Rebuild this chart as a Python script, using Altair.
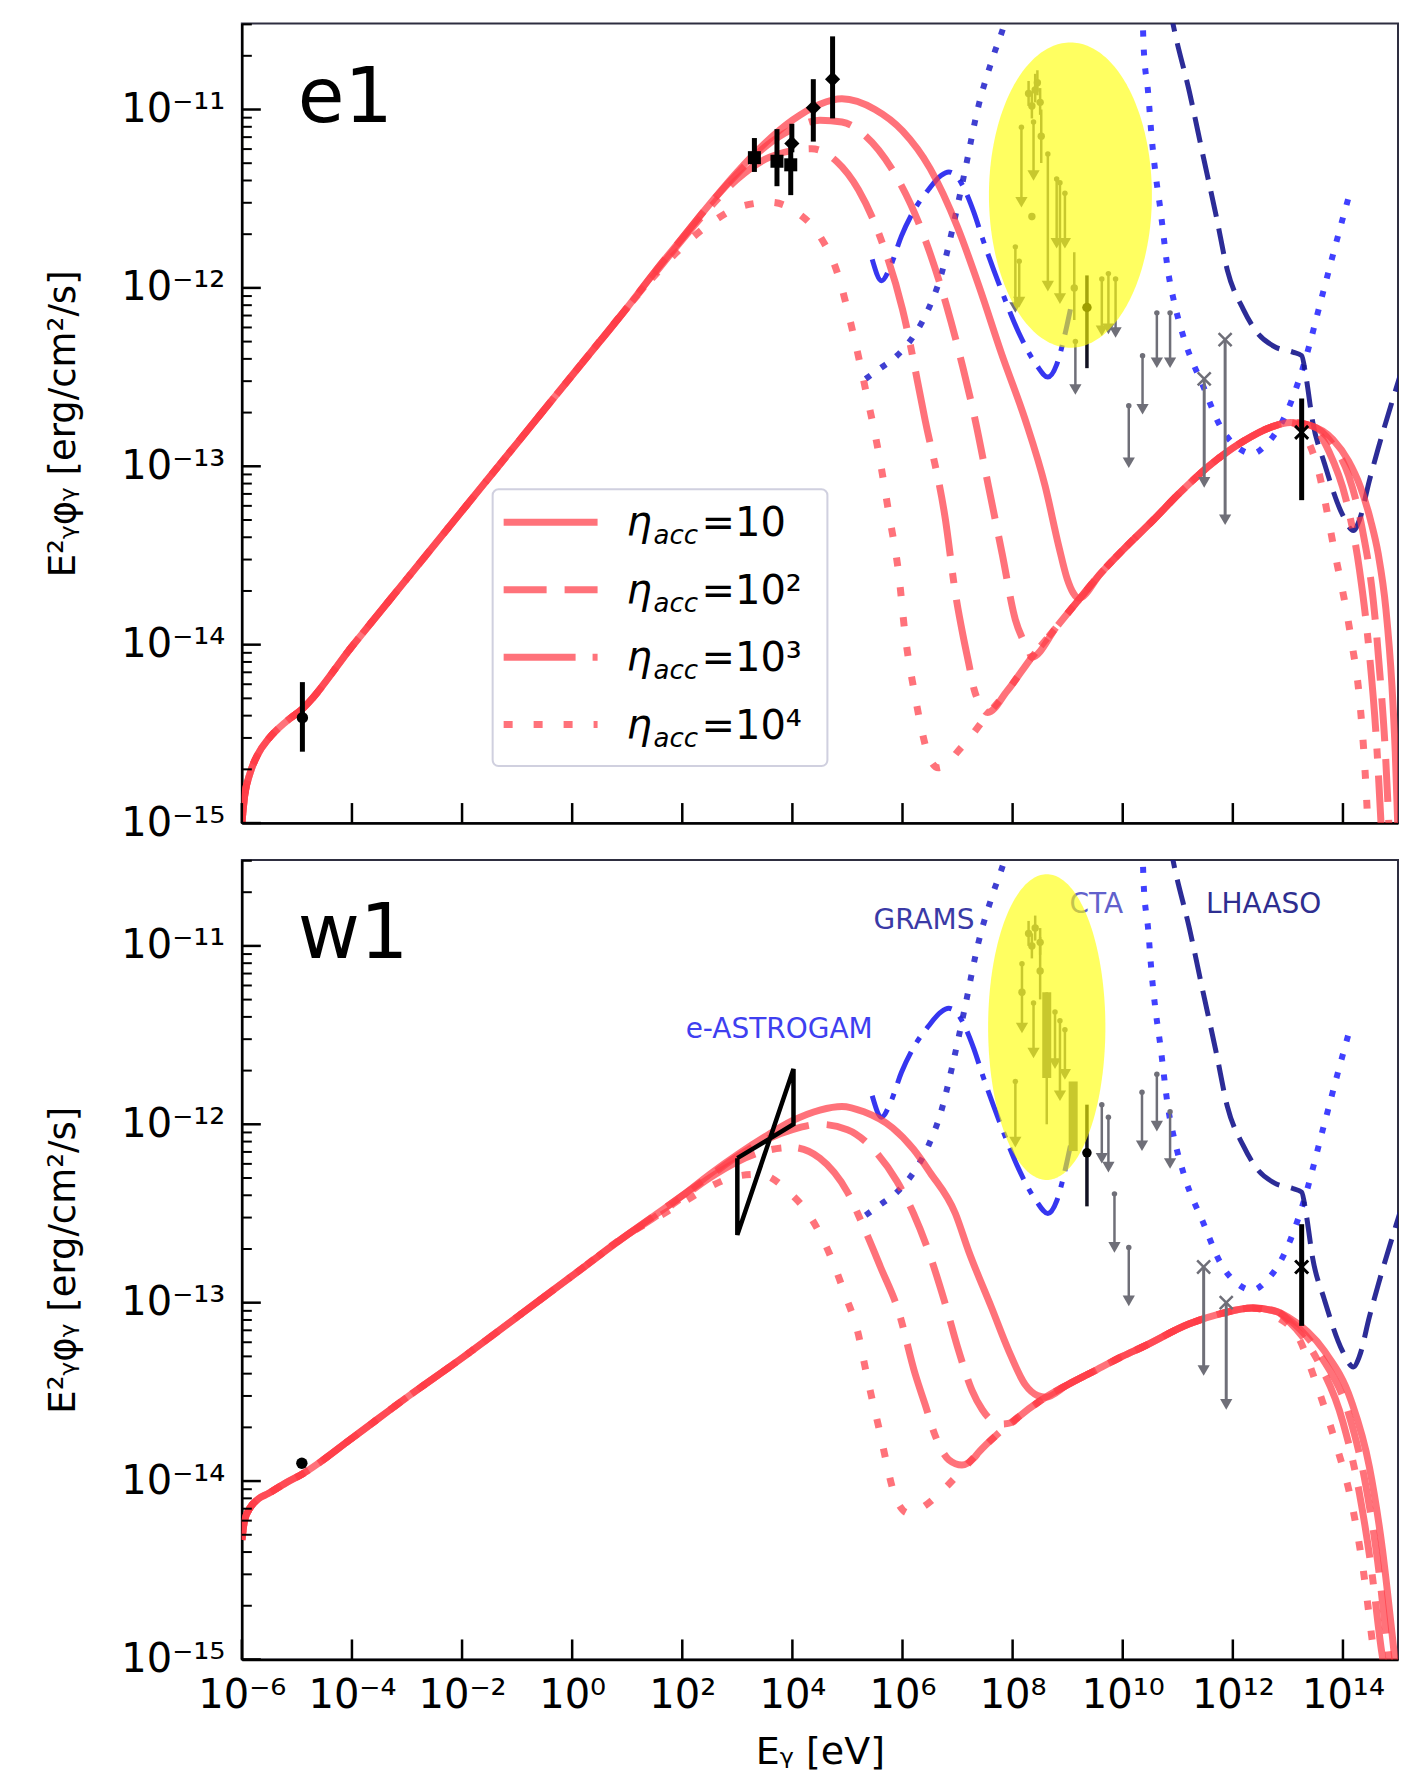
import math
import altair as alt
import pandas as pd

# ---------------- axis ranges / ticks ----------------
X_DOMAIN = [1e-6, 1e15]
Y_DOMAIN = [1e-15, 3.03e-11]
PANEL_W, PANEL_H = 1157, 800
X_TICK_EXP = list(range(-6, 15, 2))
Y_TICK_EXP = [-15, -14, -13, -12, -11]

# ---------------- values (log10 units) ----------------
# x = log10(E / eV), y = log10(E^2 phi / (erg cm^-2 s^-1))

# ---- e1 (top) model curves ----
e1_common = [(-6.0, -15.0), (-5.95, -14.85), (-5.85, -14.72), (-5.7, -14.61), (-5.52, -14.53),
             (-5.19, -14.43), (-4.9, -14.36), (-4.0, -14.01), (-3.0, -13.63), (-2.0, -13.25),
             (-1.0, -12.87), (0.0, -12.49), (1.0, -12.11)]
e1_solid_mid = [(1.5, -11.91), (2.0, -11.72), (2.5, -11.53), (3.0, -11.35), (3.5, -11.19), (4.0, -11.06),
                (4.5, -10.97), (4.9, -10.94), (5.5, -11.0), (6.0, -11.12), (6.5, -11.33), (7.0, -11.66),
                (7.4, -12.0), (7.8, -12.37), (8.23, -12.74), (8.59, -13.11), (8.84, -13.45), (8.99, -13.63),
                (9.1, -13.71), (9.2, -13.74)]
e1_dashed_mid = [(1.5, -11.91), (2.0, -11.72), (2.5, -11.53), (3.0, -11.36), (3.5, -11.21), (4.0, -11.11),
                 (4.5, -11.06), (4.9, -11.07), (5.3, -11.14), (5.8, -11.33), (6.3, -11.64), (6.8, -12.1),
                 (7.1, -12.45), (7.32, -12.74), (7.56, -13.11), (7.81, -13.49), (8.05, -13.86), (8.2, -13.98),
                 (8.3, -14.04)]
e1_dashdot_mid = [(1.5, -11.92), (2.0, -11.73), (2.5, -11.55), (3.0, -11.39), (3.5, -11.28), (4.0, -11.23),
                  (4.35, -11.22), (4.8, -11.29), (5.2, -11.45), (5.6, -11.72), (6.0, -12.12), (6.41, -12.74),
                  (6.78, -13.30), (6.96, -13.71), (7.1, -13.95), (7.2, -14.1), (7.3, -14.25), (7.42, -14.34),
                  (7.55, -14.38)]
e1_dotted_mid = [(1.5, -11.93), (2.0, -11.77), (2.55, -11.63), (3.1, -11.54), (3.6, -11.52), (4.1, -11.58),
                 (4.5, -11.71), (4.8, -11.9), (5.1, -12.25), (5.35, -12.6), (5.57, -12.93), (5.75, -13.26),
                 (5.93, -13.6), (6.05, -13.95), (6.23, -14.29), (6.35, -14.48), (6.47, -14.62), (6.65, -14.69),
                 (6.84, -14.66), (7.0, -14.6)]
e1_ic = [(7.2, -14.53), (7.5, -14.41), (7.9, -14.26), (8.35, -14.07), (8.8, -13.9), (9.17, -13.76),
         (9.6, -13.6), (10.0, -13.47), (10.56, -13.3), (11.0, -13.16), (11.56, -13.0), (12.19, -12.86),
         (12.7, -12.78), (13.05, -12.755), (13.4, -12.77)]
e1_solid_tail = [(13.82, -12.85), (14.1, -12.97), (14.31, -13.11), (14.5, -13.3), (14.64, -13.49),
                 (14.78, -13.8), (14.89, -14.23), (14.95, -14.6), (15.0, -15.05)]
e1_dashed_tail = [(13.82, -12.88), (14.1, -13.05), (14.35, -13.35), (14.55, -13.75), (14.68, -14.2),
                  (14.77, -14.6), (14.84, -15.05)]
e1_dashdot_tail = [(13.75, -12.92), (14.05, -13.18), (14.3, -13.58), (14.48, -14.05), (14.6, -14.5),
                   (14.7, -15.05)]
e1_dotted_tail = [(13.3, -12.82), (13.55, -13.02), (13.83, -13.45), (14.15, -13.97), (14.3, -14.3),
                  (14.4, -14.7), (14.46, -15.05)]

# ---- w1 (bottom) model curves ----
w1_common = [(-6.0, -14.33), (-5.95, -14.22), (-5.85, -14.15), (-5.7, -14.1), (-5.52, -14.07),
             (-5.2, -14.01), (-4.9, -13.96), (-4.0, -13.76), (-3.0, -13.53), (-2.0, -13.31),
             (-1.0, -13.08), (0.0, -12.85), (1.0, -12.62)]
w1_solid_mid = [(1.5, -12.51), (2.0, -12.40), (2.5, -12.28), (3.0, -12.17), (3.5, -12.07), (4.0, -11.98),
                (4.5, -11.92), (4.9, -11.90), (5.3, -11.93), (5.82, -12.02), (6.2, -12.14), (6.5, -12.27),
                (6.96, -12.5), (7.2, -12.71), (7.62, -13.03), (7.93, -13.27), (8.23, -13.46), (8.45, -13.52),
                (8.6, -13.53)]
w1_dashed_mid = [(1.5, -12.51), (2.0, -12.40), (2.5, -12.29), (3.0, -12.18), (3.5, -12.09), (4.0, -12.03),
                 (4.5, -12.0), (5.0, -12.03), (5.5, -12.15), (5.9, -12.32), (6.2, -12.5), (6.47, -12.71),
                 (6.78, -13.01), (7.02, -13.27), (7.26, -13.49), (7.45, -13.6), (7.62, -13.66), (7.81, -13.68),
                 (8.0, -13.67)]
w1_dashdot_mid = [(1.5, -12.52), (2.0, -12.41), (2.5, -12.3), (3.0, -12.21), (3.5, -12.15), (4.0, -12.13),
                  (4.5, -12.19), (5.0, -12.38), (5.3, -12.58), (5.6, -12.8), (5.93, -13.05), (6.23, -13.40),
                  (6.41, -13.57), (6.6, -13.75), (6.84, -13.88), (7.08, -13.91), (7.3, -13.87)]
w1_dotted_mid = [(1.5, -12.53), (2.0, -12.44), (2.5, -12.35), (3.0, -12.29), (3.4, -12.28), (3.94, -12.38),
                 (4.35, -12.53), (4.68, -12.73), (4.95, -12.95), (5.2, -13.18), (5.32, -13.36), (5.44, -13.53),
                 (5.57, -13.7), (5.69, -13.87), (5.81, -14.03), (5.95, -14.14), (6.11, -14.18), (6.35, -14.15)]
w1_ic = [(6.6, -14.09), (7.02, -13.96), (7.38, -13.84), (7.75, -13.73), (8.11, -13.64), (8.6, -13.53),
         (9.0, -13.46), (9.44, -13.39), (10.0, -13.3), (10.35, -13.25), (11.2, -13.12), (11.8, -13.06),
         (12.35, -13.03), (12.8, -13.05)]
w1_solid_tail = [(13.0, -13.08), (13.66, -13.27), (14.15, -13.55), (14.48, -13.92), (14.72, -14.39),
                 (14.89, -14.85), (14.96, -15.05)]
w1_dashed_tail = [(13.0, -13.09), (13.6, -13.3), (14.1, -13.62), (14.4, -14.0), (14.63, -14.45),
                  (14.8, -14.9), (14.86, -15.05)]
w1_dashdot_tail = [(13.0, -13.1), (13.55, -13.33), (14.0, -13.67), (14.3, -14.07), (14.52, -14.5),
                   (14.7, -14.95), (14.75, -15.05)]
w1_dotted_tail = [(12.8, -13.08), (13.2, -13.2), (13.5, -13.44), (13.87, -13.79), (14.15, -14.11),
                  (14.36, -14.48), (14.56, -14.96), (14.6, -15.05)]

# ---- instrument sensitivities (same in both panels) ----
eastrogam = [(5.45, -11.84), (5.62, -11.96), (5.78, -11.88), (5.98, -11.71), (6.2, -11.57), (6.47, -11.45),
             (6.7, -11.37), (6.84, -11.35), (7.0, -11.38), (7.13, -11.45), (7.3, -11.58), (7.45, -11.72),
             (7.78, -12.0), (8.11, -12.25), (8.43, -12.43), (8.64, -12.5), (8.8, -12.43), (8.92, -12.3),
             (9.05, -12.12)]
grams = [(5.33, -12.51), (5.6, -12.45), (5.9, -12.38), (6.2, -12.27), (6.47, -12.12), (6.7, -11.93),
         (6.9, -11.68), (7.13, -11.35), (7.38, -10.98), (7.65, -10.7), (7.85, -10.52), (7.95, -10.4)]
cta = [(10.36, -10.45), (10.38, -10.65), (10.46, -10.9), (10.53, -11.17), (10.6, -11.37), (10.68, -11.55),
       (10.83, -11.92), (10.95, -12.1), (11.13, -12.3), (11.46, -12.55), (11.78, -12.78), (12.11, -12.9),
       (12.35, -12.93), (12.6, -12.88), (12.93, -12.73), (13.25, -12.47), (13.66, -12.0), (13.9, -11.72),
       (14.15, -11.44)]
lhaaso = [(10.85, -10.42), (10.92, -10.53), (11.21, -10.9), (11.46, -11.26), (11.7, -11.6), (11.9, -11.9),
          (12.19, -12.12), (12.44, -12.25), (12.76, -12.33), (13.09, -12.36), (13.25, -12.38), (13.33, -12.5),
          (13.45, -12.75), (13.66, -12.98), (13.99, -13.27), (14.19, -13.36), (14.3, -13.3), (14.48, -13.08),
          (14.64, -12.9), (14.97, -12.56), (15.05, -12.48)]
instrument_names = ["e-ASTROGAM", "GRAMS", "CTA", "LHAASO"]
instrument_label_pos = [(3.76, -11.47), (6.39, -10.86), (9.52, -10.77), (12.56, -10.77)]

# ---- measured data ----
# upper limits: (logE, top, arrow head)
e1_ul = [(8.16, -11.10, -11.52), (8.38, -11.07, -11.37), (8.64, -11.25, -11.99), (8.80, -11.39, -11.75),
         (8.86, -11.41, -12.06), (8.95, -11.47, -11.75), (8.05, -11.77, -12.11), (8.12, -11.85, -12.08),
         (9.62, -11.95, -12.24), (9.74, -11.92, -12.23), (9.87, -11.95, -12.25), (9.14, -12.30, -12.57),
         (10.62, -12.14, -12.42), (10.86, -12.14, -12.42), (10.36, -12.38, -12.68), (10.11, -12.66, -12.98)]
w1_ul = [(8.17, -11.10, -11.46), (8.38, -11.32, -11.60), (8.77, -11.37, -11.66), (8.86, -11.42, -11.84),
         (8.95, -11.47, -11.72), (8.05, -11.76, -12.10), (9.62, -11.89, -12.19), (9.74, -11.96, -12.24),
         (10.35, -11.82, -12.12), (10.62, -11.72, -12.01), (10.86, -11.93, -12.22), (9.85, -12.39, -12.69),
         (10.11, -12.69, -12.99)]
# gray points: (logE, value, low, high)
e1_gray_pts = [(8.29, -10.91, -10.98, -10.84), (8.41, -10.89, -10.96, -10.80), (8.50, -10.96, -11.03, -10.88),
               (8.35, -10.98, -11.05, -10.90), (8.45, -10.85, -10.92, -10.78), (8.52, -11.15, -11.30, -11.00),
               (8.35, -11.60, -11.62, -11.58), (9.12, -12.00, -12.18, -11.80)]
w1_gray_pts = [(8.29, -10.93, -11.0, -10.86), (8.41, -10.90, -10.97, -10.83), (8.50, -10.98, -11.05, -10.90),
               (8.35, -11.00, -11.07, -10.93), (8.50, -11.14, -11.30, -10.95), (8.17, -11.26, -11.28, -11.24),
               (8.62, -11.5, -12.0, -11.26)]
w1_gray_thick = [(8.62, -11.26, -11.74), (9.1, -11.76, -12.15)]
# gray crosses with arrows: (logE, value, arrow head)
e1_gray_x = [(11.48, -12.51, -13.09), (11.86, -12.29, -13.30)]
w1_gray_x = [(11.47, -12.80, -13.38), (11.88, -13.00, -13.57)]
# black points
e1_radio = [(-4.9, -14.41, -14.60, -14.21)]
w1_radio = [(-4.91, -13.90, -13.90, -13.90)]
e1_xray_sq = [(3.31, -11.27, -11.35, -11.16), (3.72, -11.29, -11.43, -11.11), (3.97, -11.31, -11.48, -11.21)]
e1_xray_dm = [(3.99, -11.19, -11.24, -11.08), (4.38, -10.99, -11.18, -10.83), (4.73, -10.83, -11.05, -10.59)]
e1_black_dot = [(9.35, -12.11, -12.45, -11.93)]
w1_black_dot = [(9.35, -12.16, -12.46, -11.89)]
e1_black_x = [(13.25, -12.81, -13.19, -12.62)]
w1_black_x = [(13.25, -12.80, -13.13, -12.56)]
w1_bowtie = [(3.0, -12.19), (4.02, -12.0), (4.02, -11.69), (3.0, -12.62), (3.0, -12.19)]
# highlight ellipses: (centre logE, centre logF, half width [dex], half height [dex])
e1_ellipse = (9.05, -11.48, 1.48, 0.856)
w1_ellipse = (8.62, -11.455, 1.065, 0.857)

legend_labels = ["10", "10²", "10³", "10⁴"]

# ---------------- styling ----------------
FONT = "DejaVu Sans"
RED = "#ff3c46"
GRAY = "#6f6f78"
DASHES = [None, [43, 18], [72, 17, 10, 17], [9, 21]]
SUP = str.maketrans("-0123456789", "⁻⁰¹²³⁴⁵⁶⁷⁸⁹")


def label_expr(exps):
    k = "round(log(datum.value) / LN10)"
    return " : ".join(f"{k} == {e} ? '10{str(e).translate(SUP)}'" for e in exps) + " : ''"


def pts(pairs):
    return pd.DataFrame({"E": [10.0 ** a for a, _ in pairs], "F": [10.0 ** b for _, b in pairs]})


def seg(pairs, lo, hi=99):
    return [p for p in pairs if lo < p[0] <= hi]


def vals(rows):
    return pd.DataFrame({"E": [10.0 ** r[0] for r in rows], "F": [10.0 ** r[1] for r in rows],
                         "F2": [10.0 ** r[2] for r in rows]})


def pt4(rows):
    return pd.DataFrame({"E": [10.0 ** r[0] for r in rows], "F": [10.0 ** r[1] for r in rows],
                         "Flo": [10.0 ** r[2] for r in rows], "Fhi": [10.0 ** r[3] for r in rows]})


yaxis = alt.Axis(values=[10.0 ** e for e in Y_TICK_EXP], labelExpr=label_expr(Y_TICK_EXP), labelFont=FONT,
                 labelFontSize=40, labelColor="black", labelPadding=17, labelOverlap=False, ticks=False,
                 grid=False, domainColor="black", domainWidth=2.5, title="E²ᵧφᵧ [erg/cm²/s]", titleFont=FONT,
                 titleFontSize=37, titleFontWeight="normal", titleColor="black", titlePadding=38)
xaxis_top = alt.Axis(values=[10.0 ** e for e in X_TICK_EXP], labels=False, ticks=False, grid=False,
                     domainColor="black", domainWidth=2.5, title=None)
xaxis_bot = alt.Axis(values=[10.0 ** e for e in X_TICK_EXP], labelExpr=label_expr(X_TICK_EXP), labelFont=FONT,
                     labelFontSize=40, labelColor="black", labelPadding=16, labelFlush=False, labelOverlap=False,
                     ticks=False, grid=False, domainColor="black", domainWidth=2.5, title="Eᵧ [eV]",
                     titleFont=FONT, titleFontSize=38, titleFontWeight="normal", titleColor="black",
                     titlePadding=18)


def build_panel(name, curves, ul, gray_pts, gray_x, radio, black_dot, black_x, ell, bottom,
                extra=None):
    xe = alt.X("E:Q", scale=alt.Scale(type="log", domain=X_DOMAIN), axis=xaxis_bot if bottom else xaxis_top)
    ye = alt.Y("F:Q", scale=alt.Scale(type="log", domain=Y_DOMAIN), axis=yaxis)
    L = []

    # instruments
    for pairs, col, w, dash in [(eastrogam, "#2020ee", 5, [34, 11, 6, 11]), (grams, "#2a2acc", 6, [6, 13]),
                                (cta, "#2b2bff", 6, [6, 13]), (lhaaso, "#15158c", 5, [26, 12])]:
        L.append(alt.Chart(pts(pairs)).mark_line(color=col, strokeWidth=w, strokeDash=dash, opacity=0.9,
                                                 clip=True, interpolate="monotone").encode(x=xe, y=ye))
    # model curves
    for pairs, dash in zip(curves, DASHES):
        kw = dict(color=RED, strokeWidth=7, opacity=0.72, clip=True, interpolate="monotone")
        if dash:
            kw["strokeDash"] = dash
        L.append(alt.Chart(pts(pairs)).mark_line(**kw).encode(x=xe, y=ye))

    # gray upper limits
    d = vals(ul)
    L.append(alt.Chart(d).mark_rule(color=GRAY, strokeWidth=2.5).encode(x=xe, y=ye, y2="F2:Q"))
    L.append(alt.Chart(d).mark_point(shape="triangle-down", filled=True, color=GRAY, size=150, opacity=1)
             .encode(x=xe, y=alt.Y("F2:Q", scale=alt.Scale(type="log", domain=Y_DOMAIN), axis=yaxis)))
    L.append(alt.Chart(d).mark_point(shape="circle", filled=True, color=GRAY, size=30, opacity=1)
             .encode(x=xe, y=ye))
    # gray points
    d = pt4(gray_pts)
    L.append(alt.Chart(d).mark_rule(color=GRAY, strokeWidth=2.5).encode(
        x=xe, y=alt.Y("Flo:Q", scale=alt.Scale(type="log", domain=Y_DOMAIN), axis=yaxis), y2="Fhi:Q"))
    L.append(alt.Chart(d).mark_point(shape="circle", filled=True, color=GRAY, size=55, opacity=1)
             .encode(x=xe, y=ye))
    if extra is not None:
        L.append(alt.Chart(vals(extra)).mark_rule(color=GRAY, strokeWidth=9).encode(x=xe, y=ye, y2="F2:Q"))
    # gray crosses with arrows
    d = vals(gray_x)
    L.append(alt.Chart(d).mark_rule(color=GRAY, strokeWidth=3).encode(x=xe, y=ye, y2="F2:Q"))
    L.append(alt.Chart(d).mark_point(shape="triangle-down", filled=True, color=GRAY, size=150, opacity=1)
             .encode(x=xe, y=alt.Y("F2:Q", scale=alt.Scale(type="log", domain=Y_DOMAIN), axis=yaxis)))
    L.append(alt.Chart(d).mark_point(shape="M-1,-1L1,1M-1,1L1,-1", filled=False, color=GRAY, size=170,
                                     strokeWidth=2.5, opacity=1).encode(x=xe, y=ye))

    # black points
    ylo = alt.Y("Flo:Q", scale=alt.Scale(type="log", domain=Y_DOMAIN), axis=yaxis)
    for rows, shape, size in radio:
        d = pt4(rows)
        L.append(alt.Chart(d).mark_rule(color="black", strokeWidth=5).encode(x=xe, y=ylo, y2="Fhi:Q"))
        L.append(alt.Chart(d).mark_point(shape=shape, filled=True, color="black", size=size, opacity=1)
                 .encode(x=xe, y=ye))
    d = pt4(black_dot)
    L.append(alt.Chart(d).mark_rule(color="#111122", strokeWidth=3.5).encode(x=xe, y=ylo, y2="Fhi:Q"))
    L.append(alt.Chart(d).mark_point(shape="circle", filled=True, color="black", size=90, opacity=1)
             .encode(x=xe, y=ye))
    d = pt4(black_x)
    L.append(alt.Chart(d).mark_rule(color="black", strokeWidth=5).encode(x=xe, y=ylo, y2="Fhi:Q"))
    L.append(alt.Chart(d).mark_point(shape="M-1,-1L1,1M-1,1L1,-1", filled=False, color="black", size=170,
                                     strokeWidth=3, opacity=1).encode(x=xe, y=ye))

    if bottom:
        bt = pts(w1_bowtie).assign(i=range(len(w1_bowtie)))
        L.append(alt.Chart(bt).mark_line(color="black", strokeWidth=4.5, strokeJoin="miter")
                 .encode(x=xe, y=ye, order="i:Q"))
        cols = ["#3f3ff0", "#3a3aa6", "#6161cc", "#2e2e90"]
        for nm, (lx, ly), c in zip(instrument_names, instrument_label_pos, cols):
            L.append(alt.Chart(pd.DataFrame({"E": [10.0 ** lx], "F": [10.0 ** ly], "t": [nm]}))
                     .mark_text(font=FONT, fontSize=28, color=c, align="center", baseline="middle")
                     .encode(x=xe, y=ye, text="t:N"))

    # highlight ellipse
    cx, cy, a, b = ell
    n = 120
    rows = []
    for i in range(n + 1):
        t = math.pi * i / n
        h = b * math.sin(t)
        rows.append((cx + a * math.cos(t), cy + h, cy - h))
    L.append(alt.Chart(vals(rows)).mark_area(color="#ffff00", opacity=0.62, clip=True)
             .encode(x=xe, y=ye, y2="F2:Q"))

    one = pd.DataFrame({"a": [0]})
    if not bottom:
        # legend
        L.append(alt.Chart(one).mark_rect(fill="white", stroke="#c8c8da", strokeWidth=2, cornerRadius=6,
                                          opacity=0.85)
                 .encode(x=alt.value(251), x2=alt.value(586), y=alt.value(466), y2=alt.value(743)))
        for k, (lab, dash) in enumerate(zip(legend_labels, DASHES)):
            yc = 499 + 67.5 * k
            kw = dict(color=RED, strokeWidth=7, opacity=0.72)
            if dash:
                kw["strokeDash"] = dash
            L.append(alt.Chart(one).mark_rule(**kw).encode(x=alt.value(262), x2=alt.value(356),
                                                           y=alt.value(yc)))
            L.append(alt.Chart(one).mark_text(font=FONT, fontSize=40, fontStyle="italic", align="left",
                                              baseline="alphabetic", color="black")
                     .encode(x=alt.value(385), y=alt.value(yc + 13), text=alt.value("η")))
            L.append(alt.Chart(one).mark_text(font=FONT, fontSize=26, fontStyle="italic", align="left",
                                              baseline="alphabetic", color="black")
                     .encode(x=alt.value(412), y=alt.value(yc + 22), text=alt.value("acc")))
            L.append(alt.Chart(one).mark_text(font=FONT, fontSize=40, align="left", baseline="alphabetic",
                                              color="black")
                     .encode(x=alt.value(460), y=alt.value(yc + 14), text=alt.value("=" + lab)))

    # panel label
    L.append(alt.Chart(one).mark_text(font=FONT, fontSize=76, align="left", baseline="alphabetic",
                                      color="black")
             .encode(x=alt.value(56), y=alt.value(98), text=alt.value(name)))

    # inward ticks
    tx = pd.DataFrame({"E": [10.0 ** e for e in X_TICK_EXP]})
    L.append(alt.Chart(tx).mark_rule(color="black", strokeWidth=2.5)
             .encode(x=xe, y=alt.value(PANEL_H), y2=alt.value(PANEL_H - 20)))
    ty = pd.DataFrame({"F": [10.0 ** e for e in Y_TICK_EXP]})
    L.append(alt.Chart(ty).mark_rule(color="black", strokeWidth=2.5)
             .encode(y=ye, x=alt.value(0), x2=alt.value(19)))
    minor = [m * 10.0 ** e for e in Y_TICK_EXP for m in range(2, 10) if m * 10.0 ** e <= Y_DOMAIN[1]]
    L.append(alt.Chart(pd.DataFrame({"F": minor})).mark_rule(color="black", strokeWidth=2)
             .encode(y=ye, x=alt.value(0), x2=alt.value(10)))

    return alt.layer(*L).properties(width=PANEL_W, height=PANEL_H)


e1_curves = [
    e1_common + e1_solid_mid + seg(e1_ic, 9.2) + e1_solid_tail,
    e1_common + e1_dashed_mid + seg(e1_ic, 8.3) + e1_dashed_tail,
    e1_common + e1_dashdot_mid + seg(e1_ic, 7.55) + e1_dashdot_tail,
    e1_common + e1_dotted_mid + seg(e1_ic, 7.0, 13.05) + e1_dotted_tail,
]
w1_curves = [
    w1_common + w1_solid_mid + seg(w1_ic, 8.6) + w1_solid_tail,
    w1_common + w1_dashed_mid + seg(w1_ic, 8.0) + w1_dashed_tail,
    w1_common + w1_dashdot_mid + seg(w1_ic, 7.3) + w1_dashdot_tail,
    w1_common + w1_dotted_mid + seg(w1_ic, 6.35, 12.35) + w1_dotted_tail,
]

top = build_panel("e1", e1_curves, e1_ul, e1_gray_pts, e1_gray_x,
                  [(e1_radio, "circle", 130), (e1_xray_sq, "square", 170), (e1_xray_dm, "diamond", 230)],
                  e1_black_dot, e1_black_x, e1_ellipse, bottom=False)
bottom = build_panel("w1", w1_curves, w1_ul, w1_gray_pts, w1_gray_x,
                     [(w1_radio, "circle", 130)],
                     w1_black_dot, w1_black_x, w1_ellipse, bottom=True, extra=w1_gray_thick)

chart = (alt.vconcat(top, bottom, spacing=14)
         .properties(padding={"left": 35, "top": 13, "right": 4, "bottom": 4}, background="white")
         .configure_view(stroke="#2e2e40", strokeWidth=2))

chart.save("out.html", embed_options={"renderer": "svg", "actions": False})
